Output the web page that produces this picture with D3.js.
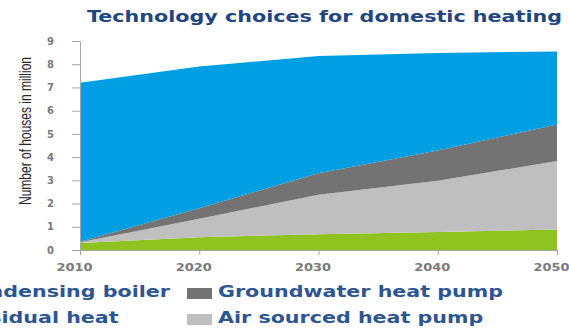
<!DOCTYPE html>
<html>
<head>
<meta charset="utf-8">
<script src="https://cdn.jsdelivr.net/npm/d3@7"></script>
<style>
  html, body { margin: 0; padding: 0; background: #fff; }
  svg { display: block; }
</style>
</head>
<body>
<svg id="chart" width="569" height="329"></svg>
<script>
// Domestic heating technology mix, millions of houses (stacked)
const years = [2010, 2020, 2030, 2040, 2050];
const residualHeat     = [0.30, 0.55, 0.68, 0.78, 0.88];
const airSourced       = [0.03, 0.80, 1.70, 2.20, 2.95];
const groundwater      = [0.02, 0.45, 0.92, 1.30, 1.57];
const condensingBoiler = [6.85, 6.10, 5.05, 4.20, 3.15];

const seriesNames = ["Residual heat", "Air sourced heat pump", "Groundwater heat pump", "Condensing boiler"];
const seriesColors = ["#8fc31f", "#bfbfbf", "#737373", "#009fe3"];
const yTicks = [0, 1, 2, 3, 4, 5, 6, 7, 8, 9];

const rows = years.map((yr, i) => ({
  year: yr,
  "Residual heat": residualHeat[i],
  "Air sourced heat pump": airSourced[i],
  "Groundwater heat pump": groundwater[i],
  "Condensing boiler": condensingBoiler[i]
}));

const svg = d3.select("#chart");
const x = d3.scaleLinear().domain([2010, 2050]).range([80, 557]);
const y = d3.scaleLinear().domain([0, 9]).range([250, 41]);

const stack = d3.stack().keys(seriesNames);
const layers = stack(rows);
const area = d3.area()
  .x(d => x(d.data.year))
  .y0(d => y(d[0]))
  .y1(d => y(d[1]));

svg.append("g").selectAll("path")
  .data(layers)
  .join("path")
  .attr("d", area)
  .attr("fill", (d, i) => seriesColors[i]);

// Axes
const axisColor = "#a6a6a6";
const tickTextColor = "#7a7a7a";
const yAxis = svg.append("g")
  .attr("transform", "translate(80,0)")
  .call(d3.axisLeft(y).tickValues(yTicks).tickSize(8).tickPadding(18).tickFormat(d3.format("d")));
yAxis.select(".domain").attr("stroke", axisColor);
yAxis.selectAll(".tick line").attr("stroke", axisColor);
yAxis.selectAll("text")
  .attr("fill", tickTextColor)
  .style("font-family", "DejaVu Sans")
  .style("font-size", "10px")
  .style("font-weight", "bold");

const xAxis = svg.append("g")
  .attr("transform", "translate(0,250)")
  .call(d3.axisBottom(x).tickValues(years).tickSize(5).tickPadding(9).tickFormat(d3.format("d")));
xAxis.select(".domain").attr("stroke", axisColor);
xAxis.selectAll(".tick line").attr("stroke", axisColor);
xAxis.selectAll("text")
  .attr("fill", tickTextColor)
  .attr("dx", -6)
  .attr("textLength", 36)
  .attr("lengthAdjust", "spacingAndGlyphs")
  .style("font-family", "DejaVu Sans")
  .style("font-size", "10px")
  .style("font-weight", "bold");

// Y axis title
svg.append("text")
  .attr("transform", "translate(31,131) rotate(-90)")
  .attr("text-anchor", "middle")
  .attr("textLength", 148)
  .attr("lengthAdjust", "spacingAndGlyphs")
  .attr("fill", "#262626")
  .style("font-family", "Liberation Sans Narrow, Liberation Sans, sans-serif")
  .style("font-size", "16px")
  .text("Number of houses in million");

// Title
svg.append("text")
  .attr("x", 87)
  .attr("y", 22)
  .attr("textLength", 475)
  .attr("lengthAdjust", "spacingAndGlyphs")
  .attr("fill", "#1f4582")
  .style("font-family", "DejaVu Sans")
  .style("font-size", "16px")
  .style("font-weight", "bold")
  .text("Technology choices for domestic heating");

// Legend (two columns, two rows)
const legendFont = { family: "DejaVu Sans", size: "15px" };
const legendColor = "#2d5592";
const legendG = svg.append("g");
function legendText(label, xPos, yPos) {
  return legendG.append("text")
    .attr("x", xPos)
    .attr("y", yPos)
    .attr("fill", legendColor)
    .style("font-family", legendFont.family)
    .style("font-size", legendFont.size)
    .style("font-weight", "bold")
    .text(label);
}
const probe = legendText("Groundwater heat pump", 0, -100);
const stretch = 285 / probe.node().getComputedTextLength();
probe.remove();

const legendItems = [
  { name: "Condensing boiler", col: 0, row: 0 },
  { name: "Residual heat", col: 0, row: 1 },
  { name: "Groundwater heat pump", col: 1, row: 0 },
  { name: "Air sourced heat pump", col: 1, row: 1 }
];
const rowY = [297, 323];
// first column text start so that its first entry ends at x = 170
const tmp = legendText("Condensing boiler", 0, -100);
const col0Start = 170 - tmp.node().getComputedTextLength() * stretch;
tmp.remove();
const colTextX = [col0Start, 218];

legendItems.forEach(item => {
  const idx = seriesNames.indexOf(item.name);
  const tx = colTextX[item.col];
  const ty = rowY[item.row];
  legendG.append("rect")
    .attr("x", tx - 31)
    .attr("y", ty - 9)
    .attr("width", 25)
    .attr("height", 11)
    .attr("fill", seriesColors[idx]);
  const t = legendText(item.name, tx, ty);
  t.attr("textLength", t.node().getComputedTextLength() * stretch)
   .attr("lengthAdjust", "spacingAndGlyphs");
});
</script>
</body>
</html>
